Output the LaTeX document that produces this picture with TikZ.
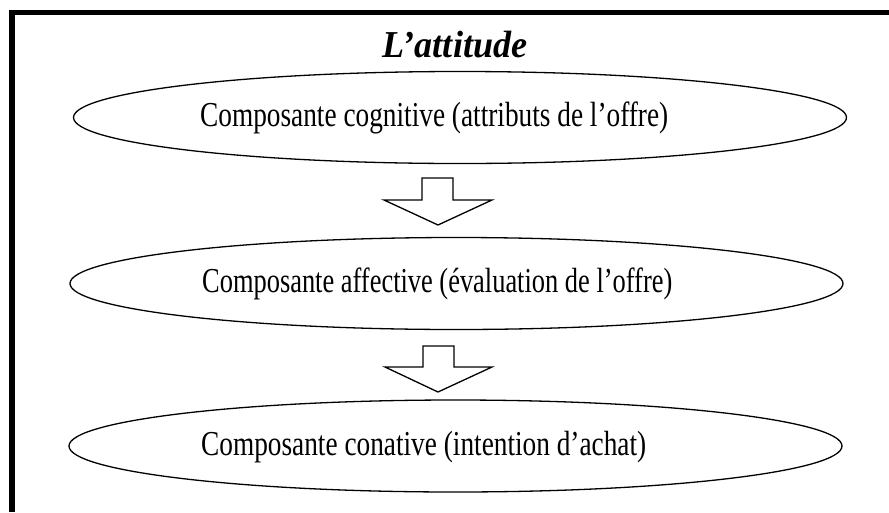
\documentclass[tikz,border=0pt]{standalone}
\usepackage{fontspec}
\usepackage{graphicx}
\setmainfont{Liberation Serif}
\usetikzlibrary{shapes.geometric}
\tikzset{
  oval/.style={draw, ellipse, line width=1.3pt, inner sep=0pt, minimum width=773pt, minimum height=92pt},
  lbl/.style={anchor=base west, inner sep=0pt, font=\fontsize{35}{40}\selectfont},
  blockarrow/.style={draw, line width=1.3pt, line join=miter, fill=white},
  frame/.style={line width=5.5pt, line cap=butt}
}
\newcommand{\sq}[2][0.78]{\scalebox{#1}[1]{#2}}
\begin{document}
\begin{tikzpicture}[x=1pt,y=-1pt]
\useasboundingbox (0,0) rectangle (889,512);
\fill[white] (0,0) rectangle (889,512);
\coordinate (fbl) at (12,512);
\coordinate (ftl) at (12,12.5);
\coordinate (ftr) at (889,12.5);
\draw[frame] (fbl) -- (ftl) -- (ftr);
\node[anchor=base, inner sep=0pt, font=\fontsize{38}{42}\selectfont\bfseries\itshape] (title) at (455,57) {\scalebox{0.95}[1]{L’attitude}};
\node[oval] (e1) at (460,117.5) {};
\node[oval] (e2) at (456.5,283.5) {};
\node[oval] (e3) at (455.5,446) {};
\node[lbl] (t1) at (200,126) {\sq{Composante cognitive (attributs de l’offre)}};
\node[lbl] (t2) at (202,292) {\sq[0.755]{Composante affective (évaluation de l’offre)}};
\node[lbl] (t3) at (201,455) {\sq{Composante conative (intention d’achat)}};
\draw[blockarrow] (422,178) -- (453,178) -- (453,200) -- (492,200) -- (438,225) -- (384,200) -- (422,200) -- cycle;
\draw[blockarrow] (423,346) -- (454,346) -- (454,367) -- (492,367) -- (438,392) -- (385,367) -- (423,367) -- cycle;
\end{tikzpicture}
\end{document}
